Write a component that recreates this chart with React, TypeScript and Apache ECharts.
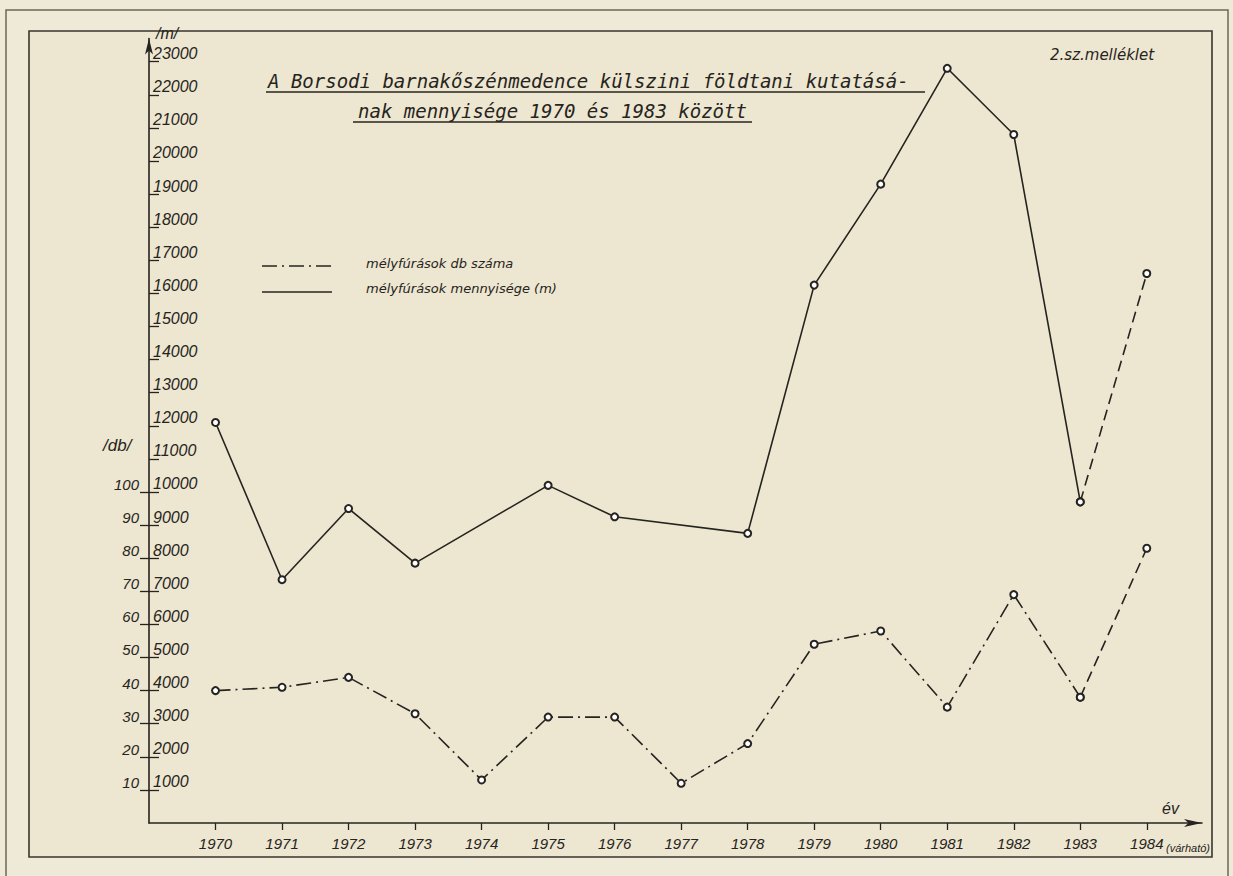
import React, { useEffect, useRef } from "react";
import * as echarts from "echarts";

const years = [1970, 1971, 1972, 1973, 1974, 1975, 1976, 1977, 1978, 1979, 1980, 1981, 1982, 1983, 1984];
// mélyfúrások mennyisége (m); null = no point drawn that year
const meters: (number | null)[] = [12100, 7350, 9500, 7850, null, 10200, 9250, null, 8750, 16250, 19300, 22800, 20800, 9700, 16600];
// mélyfúrások db száma
const counts = [40, 41, 44, 33, 13, 32, 32, 12, 24, 54, 58, 35, 69, 38, 83];

const mTicks = [1000, 2000, 3000, 4000, 5000, 6000, 7000, 8000, 9000, 10000, 11000, 12000, 13000, 14000, 15000, 16000, 17000, 18000, 19000, 20000, 21000, 22000, 23000];
const dbTicks = [10, 20, 30, 40, 50, 60, 70, 80, 90, 100];

const INK = "#262420";
const FONT = "'Liberation Sans', 'DejaVu Sans', sans-serif";
const TFONT = "'DejaVu Sans', sans-serif";
const MFONT = "'DejaVu Sans Mono', 'Liberation Mono', monospace";

export default function App() {
  const ref = useRef<HTMLDivElement>(null);
  useEffect(() => {
    if (!ref.current) return;
    const chart = echarts.init(ref.current, null, { renderer: "svg" });

    const lastActual = 13; // index of 1983
    const mMain = years.slice(0, lastActual + 1).map((y, i) => [y, meters[i]]).filter((p) => p[1] !== null);
    const mProj = [[years[lastActual], meters[lastActual]], [years[14], meters[14]]];
    const dMain = years.slice(0, lastActual + 1).map((y, i) => [y, counts[i]]);
    const dProj = [[years[lastActual], counts[lastActual]], [years[14], counts[14]]];

    const dashDot = [15, 5, 2, 5];
    const dashed = [11, 6];

    const lineBase = {
      type: "line",
      symbol: "emptyCircle",
      symbolSize: 7,
      itemStyle: { color: INK, borderColor: INK, borderWidth: 1.3 },
      emphasis: { disabled: true },
      silent: true,
    };

    const axisTextStyle = { fontFamily: FONT, fontStyle: "italic", color: INK };
    const plain = (v: number) => String(v);

    chart.setOption({
      animation: false,
      backgroundColor: "#efe9d7",
      grid: { left: 149, right: 31, top: 38.5, bottom: 53, containLabel: false },
      xAxis: {
        type: "value",
        min: 1969,
        max: 1984.83,
        axisLine: { show: true, lineStyle: { color: INK, width: 1.6 }, symbol: ["none", "arrow"], symbolSize: [6, 18] },
        axisTick: { show: true, customValues: years, length: 7, inside: false, lineStyle: { color: INK, width: 1.3 } },
        axisLabel: { customValues: years, margin: 13, fontSize: 15, ...axisTextStyle, formatter: plain },
        splitLine: { show: false },
      },
      yAxis: [
        {
          type: "value",
          position: "left",
          min: 0,
          max: 23700,
          axisLine: { show: true, lineStyle: { color: INK, width: 1.6 }, symbol: ["none", "arrow"], symbolSize: [6, 16] },
          axisTick: { show: true, customValues: mTicks, inside: true, length: 10, lineStyle: { color: INK, width: 1.3 } },
          axisLabel: { customValues: mTicks, inside: true, margin: 4, verticalAlign: "bottom", fontSize: 16, ...axisTextStyle, formatter: plain },
          splitLine: { show: false },
        },
        {
          type: "value",
          position: "left",
          offset: 0,
          min: 0,
          max: 237,
          axisLine: { show: false },
          axisTick: { show: true, customValues: dbTicks, inside: false, length: 9, lineStyle: { color: INK, width: 1.3 } },
          axisLabel: { customValues: dbTicks, margin: 10, verticalAlign: "bottom", fontSize: 15, ...axisTextStyle, formatter: plain },
          splitLine: { show: false },
        },
      ],
      series: [
        { ...lineBase, name: "mélyfúrások mennyisége (m)", yAxisIndex: 0, data: mMain, lineStyle: { color: INK, width: 1.6, type: "solid" } },
        { ...lineBase, name: "mennyiség (várható)", yAxisIndex: 0, data: mProj, lineStyle: { color: INK, width: 1.6, type: dashed } },
        { ...lineBase, name: "mélyfúrások db száma", yAxisIndex: 1, data: dMain, lineStyle: { color: INK, width: 1.6, type: dashDot } },
        { ...lineBase, name: "db szám (várható)", yAxisIndex: 1, data: dProj, lineStyle: { color: INK, width: 1.6, type: dashed } },
      ],
      graphic: [
        { type: "rect", z: -5, shape: { x: 6, y: 10, width: 1222, height: 880 }, style: { fill: "none", stroke: "#6d675c", lineWidth: 1.5 } },
        { type: "rect", z: -4, shape: { x: 29, y: 31, width: 1183, height: 826 }, style: { fill: "#ede6d1", stroke: "#3a362f", lineWidth: 1.6 } },
        // title
        { type: "text", style: { x: 268, y: 81, text: "A Borsodi barnakőszénmedence külszini földtani kutatásá-", font: `italic 19px ${MFONT}`, fill: INK, verticalAlign: "middle" } },
        { type: "line", shape: { x1: 266, y1: 92, x2: 925, y2: 92 }, style: { stroke: INK, lineWidth: 1.5 } },
        { type: "text", style: { x: 358, y: 111, text: "nak mennyisége 1970 és 1983 között", font: `italic 19px ${MFONT}`, fill: INK, verticalAlign: "middle" } },
        { type: "line", shape: { x1: 353, y1: 122, x2: 752, y2: 122 }, style: { stroke: INK, lineWidth: 1.5 } },
        { type: "text", style: { x: 1050, y: 55, text: "2.sz.melléklet", font: `italic 15px ${TFONT}`, fill: INK, verticalAlign: "middle" } },
        // axis names
        { type: "text", style: { x: 156, y: 33, text: "/m/", font: `italic 16px ${FONT}`, fill: INK, verticalAlign: "middle" } },
        { type: "text", style: { x: 103, y: 445, text: "/db/", font: `italic 17px ${FONT}`, fill: INK, verticalAlign: "middle" } },
        { type: "text", style: { x: 1162, y: 808, text: "év", font: `italic 16px ${FONT}`, fill: INK, verticalAlign: "middle" } },
        { type: "text", style: { x: 1166, y: 848, text: "(várható)", font: `italic 11px ${FONT}`, fill: INK, verticalAlign: "middle" } },
        // legend
        { type: "line", shape: { x1: 262, y1: 266, x2: 332, y2: 266 }, style: { stroke: INK, lineWidth: 1.6, lineDash: dashDot } },
        { type: "text", style: { x: 366, y: 263, text: "mélyfúrások db száma", font: `italic 13px ${TFONT}`, fill: INK, verticalAlign: "middle" } },
        { type: "line", shape: { x1: 262, y1: 292, x2: 332, y2: 292 }, style: { stroke: INK, lineWidth: 1.6 } },
        { type: "text", style: { x: 366, y: 288, text: "mélyfúrások mennyisége (m)", font: `italic 13px ${TFONT}`, fill: INK, verticalAlign: "middle" } },
      ],
    });
    return () => chart.dispose();
  }, []);
  return <div ref={ref} style={{ position: "fixed", left: 0, top: 0, width: 1233, height: 876 }} />;
}
